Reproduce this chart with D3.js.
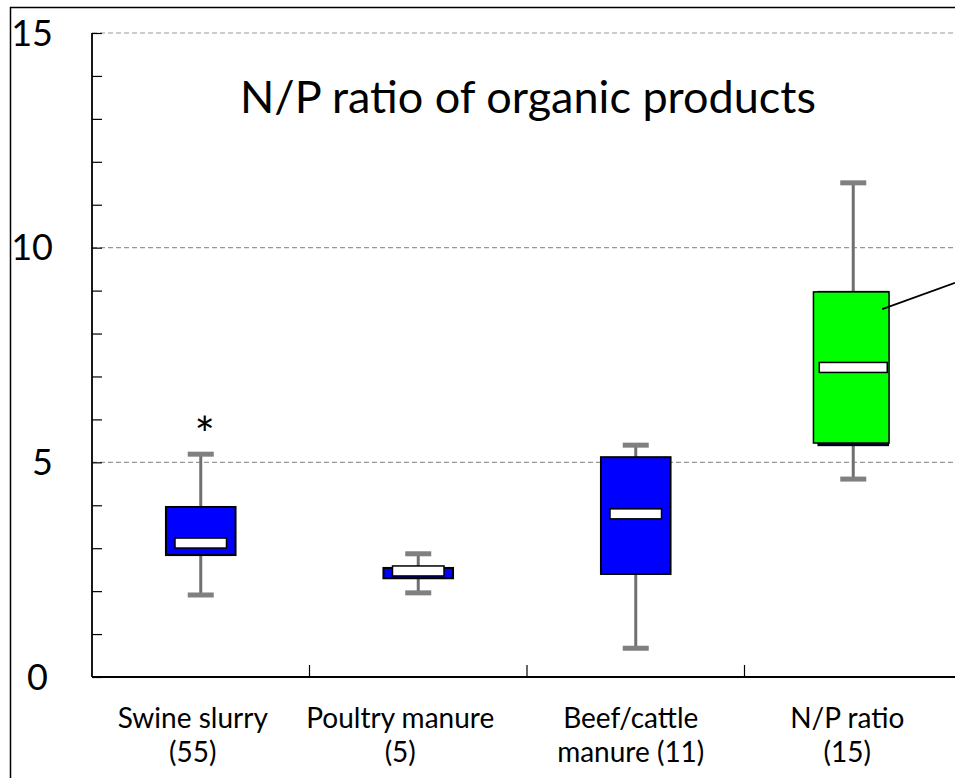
<!DOCTYPE html>
<html>
<head>
<meta charset="utf-8">
<script src="https://cdn.jsdelivr.net/npm/d3@7"></script>
<style>
  body { margin: 0; background: #fff; }
  svg { display: block; }
  text { font-family: Lato, "Open Sans", sans-serif; fill: #000; }
</style>
</head>
<body>
<script>
// categories and their (n) labels
var categories = ["Swine slurry", "Poultry manure", "Beef/cattle", "N/P ratio"];
var labelLine2 = ["(55)", "(5)", "manure (11)", "(15)"];

// box plot statistics
var whiskerLow  = [1.91, 1.96, 0.67, 4.61];
var q1          = [2.84, 2.30, 2.40, 5.40];
var median      = [3.12, 2.47, 3.80, 7.21];
var q3          = [3.96, 2.54, 5.12, 8.97];
var whiskerHigh = [5.19, 2.87, 5.40, 11.51];
var outliers    = [[5.9], [], [], []];

// green highlight drawn over the last box
var highlightCategory = "N/P ratio";
var highlightLow = 5.45, highlightHigh = 8.97;
var annotationStart = 8.57, annotationEnd = 9.18;

var majorTicks = [0, 5, 10, 15];
var minorTicks = d3.range(0, 16, 1);

var width = 955,
    height = 778,
    axisX = 92,
    axisY = 677,
    topY = 33,
    bandWidth = 217.5;

// labels in the original are not quite centred under the boxes
var labelNudge = [-8, -18, -5, -6];

var svg = d3.select("body").append("svg")
    .attr("width", width)
    .attr("height", height);

var y = d3.scaleLinear()
    .domain([0, 15])
    .range([axisY, topY]);

var x = d3.scaleBand()
    .domain(categories)
    .range([axisX, axisX + bandWidth * categories.length]);

// outer frame (left and top only)
svg.append("path")
    .attr("d", "M10.5," + height + "V7.5H" + width)
    .attr("fill", "none")
    .attr("stroke", "#000")
    .attr("stroke-width", 1.5);

// dashed gridlines
svg.append("g")
    .selectAll("line")
    .data(majorTicks.filter(function (d) { return d > 0; }))
    .enter()
    .append("line")
    .attr("x1", axisX)
    .attr("x2", width)
    .attr("y1", function (d) { return y(d); })
    .attr("y2", function (d) { return y(d); })
    .attr("stroke", "#999")
    .attr("stroke-width", 1.2)
    .attr("stroke-dasharray", "5,3");

// y axis with inward minor ticks
var yAxis = d3.axisRight(y)
    .tickValues(minorTicks)
    .tickSize(10)
    .tickFormat("");

var yg = svg.append("g")
    .attr("transform", "translate(" + axisX + ",0)")
    .call(yAxis);
yg.select(".domain").attr("d", "M0," + topY + "V" + axisY).attr("stroke-width", 1.8);
yg.selectAll(".tick line").attr("stroke-width", 1.2);

// y tick labels
svg.append("g")
    .selectAll("text")
    .data(majorTicks)
    .enter()
    .append("text")
    .attr("x", function (d) { return d === 0 ? 48 : 53; })
    .attr("y", function (d) { return y(d); })
    .attr("dy", "0.35em")
    .attr("text-anchor", "end")
    .style("font-size", "36px")
    .text(function (d) { return d; });

// x axis with upward ticks at band boundaries
var xg = svg.append("g");
xg.append("line")
    .attr("x1", axisX)
    .attr("x2", width)
    .attr("y1", axisY)
    .attr("y2", axisY)
    .attr("stroke", "#000")
    .attr("stroke-width", 1.8);
xg.selectAll(".xtick")
    .data(categories.slice(1))
    .enter()
    .append("line")
    .attr("class", "xtick")
    .attr("x1", function (d) { return x(d); })
    .attr("x2", function (d) { return x(d); })
    .attr("y1", axisY)
    .attr("y2", axisY - 12)
    .attr("stroke", "#000")
    .attr("stroke-width", 1.2);

// category labels, two separate lines
var labelX = function (d, i) { return x(d) + x.bandwidth() / 2 + labelNudge[i]; };
var labelG = svg.append("g")
    .attr("text-anchor", "middle")
    .style("font-size", "28px");
labelG.selectAll(".lab1")
    .data(categories)
    .enter()
    .append("text")
    .attr("class", "lab1")
    .attr("x", labelX)
    .attr("y", 728)
    .text(function (d) { return d; });
labelG.selectAll(".lab2")
    .data(categories)
    .enter()
    .append("text")
    .attr("class", "lab2")
    .attr("x", labelX)
    .attr("y", 762)
    .text(function (d, i) { return labelLine2[i]; });

// boxes
var boxW = x.bandwidth() * 0.32,
    capW = 26,
    medW = boxW * 0.74;

var boxes = svg.append("g")
    .selectAll("g")
    .data(categories)
    .enter()
    .append("g")
    .attr("transform", function (d) { return "translate(" + (x(d) + x.bandwidth() / 2) + ",0)"; });

// whisker stems
boxes.append("line")
    .attr("y1", function (d, i) { return y(whiskerLow[i]); })
    .attr("y2", function (d, i) { return y(whiskerHigh[i]); })
    .attr("stroke", "#707070")
    .attr("stroke-width", 3);

// whisker caps
[whiskerLow, whiskerHigh].forEach(function (arr) {
    boxes.append("rect")
        .attr("x", -capW / 2)
        .attr("y", function (d, i) { return y(arr[i]) - 2.5; })
        .attr("width", capW)
        .attr("height", 5)
        .attr("fill", "#808080");
});

// box
boxes.append("rect")
    .attr("x", -boxW / 2)
    .attr("y", function (d, i) { return y(q3[i]); })
    .attr("width", boxW)
    .attr("height", function (d, i) { return y(q1[i]) - y(q3[i]); })
    .attr("fill", "#0000ff")
    .attr("stroke", "#000")
    .attr("stroke-width", 2);

// green highlight box
var hl = boxes.filter(function (d) { return d === highlightCategory; });
hl.append("rect")
    .attr("x", -boxW / 2 - 5)
    .attr("y", y(highlightHigh))
    .attr("width", boxW + 6)
    .attr("height", y(highlightLow) - y(highlightHigh))
    .attr("fill", "#00ff00")
    .attr("stroke", "#000")
    .attr("stroke-width", 1.5);

// median markers
boxes.append("rect")
    .attr("x", function (d) { return d === highlightCategory ? -34 : -medW / 2; })
    .attr("y", function (d, i) { return y(median[i]) - 5; })
    .attr("width", function (d) { return d === highlightCategory ? 68 : medW; })
    .attr("height", 10)
    .attr("fill", "#fff")
    .attr("stroke", "#000")
    .attr("stroke-width", 1.5);

// outliers
boxes.each(function (d, i) {
    d3.select(this).selectAll(".outlier")
        .data(outliers[i])
        .enter()
        .append("text")
        .attr("class", "outlier")
        .attr("x", 4)
        .attr("y", function (v) { return y(v) + 28; })
        .attr("text-anchor", "middle")
        .style("font-size", "48px")
        .text("*");
});

// annotation line leaving the green box
hl.append("line")
    .attr("x1", 29)
    .attr("y1", y(annotationStart))
    .attr("x2", width - (x(highlightCategory) + x.bandwidth() / 2))
    .attr("y2", y(annotationEnd))
    .attr("stroke", "#000")
    .attr("stroke-width", 1.8);

// title
svg.append("text")
    .attr("x", 528)
    .attr("y", 113)
    .attr("text-anchor", "middle")
    .style("font-size", "45px")
    .text("N/P ratio of organic products");
</script>
</body>
</html>
